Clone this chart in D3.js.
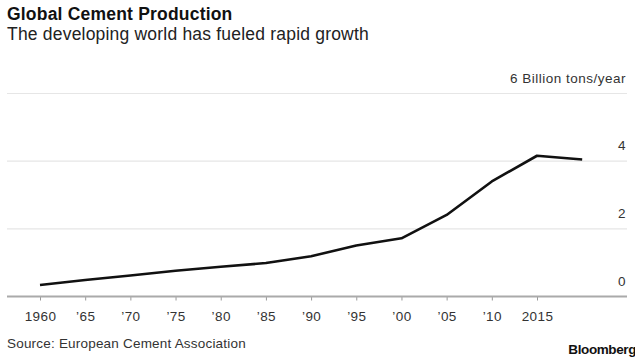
<!DOCTYPE html>
<html>
<head>
<meta charset="utf-8">
<script src="https://cdn.jsdelivr.net/npm/d3@7"></script>
<style>
  html, body { margin: 0; padding: 0; background: #fff; }
  svg { display: block; font-family: "Liberation Sans", Arial, sans-serif; }
</style>
</head>
<body>
<svg id="chart" width="635" height="361"></svg>
<script>
// Global cement production, billion tons per year
const years = [1960, 1965, 1970, 1975, 1980, 1985, 1990, 1995, 2000, 2005, 2010, 2015, 2020];
const production = [0.34, 0.49, 0.62, 0.76, 0.88, 0.99, 1.19, 1.51, 1.72, 2.41, 3.40, 4.16, 4.05];
const xTicks = [1960, 1965, 1970, 1975, 1980, 1985, 1990, 1995, 2000, 2005, 2010, 2015];
const xTickLabels = ["1960", "’65", "’70", "’75", "’80", "’85", "’90", "’95", "’00", "’05", "’10", "2015"];
const yTicks = [0, 2, 4, 6];
const yTickLabels = ["0", "2", "4", "6 Billion tons/year"];

const svg = d3.select("#chart");
const W = 635, H = 361;
const left = 7, right = 627;

const x = d3.scaleLinear().domain([1960, 2015]).range([40, 537]);
const y = d3.scaleLinear().domain([0, 6]).range([296.5, 93.5]);

// Title block
svg.append("text").attr("x", 7).attr("y", 20)
  .attr("font-size", 17.5).attr("font-weight", "bold").attr("fill", "#111")
  .attr("letter-spacing", 0.2)
  .text("Global Cement Production");
svg.append("text").attr("x", 7).attr("y", 40)
  .attr("font-size", 17.5).attr("fill", "#222").attr("letter-spacing", 0.2)
  .text("The developing world has fueled rapid growth");

// Horizontal gridlines with labels sitting above them on the right
const grid = svg.append("g");
grid.selectAll("line").data(yTicks.filter(d => d !== 0)).join("line")
  .attr("x1", left).attr("x2", right)
  .attr("y1", d => y(d)).attr("y2", d => y(d))
  .attr("stroke", "#e6e6e6").attr("stroke-width", 1.2);
grid.selectAll("text").data(yTicks).join("text")
  .attr("x", right - 1).attr("y", d => y(d) - 11)
  .attr("text-anchor", "end").attr("font-size", 13.5).attr("fill", "#333")
  .attr("letter-spacing", 0.5)
  .text((d, i) => yTickLabels[i]);

// Bottom axis
const xAxis = d3.axisBottom(x)
  .tickValues(xTicks)
  .tickFormat((d, i) => xTickLabels[i])
  .tickSize(4).tickPadding(11);
const gx = svg.append("g").attr("transform", `translate(0,${y(0)})`).call(xAxis);
gx.select(".domain").remove();
gx.selectAll(".tick line").attr("stroke", "#999");
gx.selectAll(".tick text").attr("font-size", 13.5).attr("fill", "#333")
  .attr("letter-spacing", 0.4)
  .attr("font-family", "Liberation Sans, Arial, sans-serif");
svg.append("line").attr("x1", left).attr("x2", right)
  .attr("y1", y(0)).attr("y2", y(0))
  .attr("stroke", "#aaa").attr("stroke-width", 2);

// Production line
const line = d3.line().x((d, i) => x(years[i])).y(d => y(d));
svg.append("path").datum(production)
  .attr("d", line).attr("fill", "none")
  .attr("stroke", "#111").attr("stroke-width", 2.6)
  .attr("stroke-linejoin", "round");

// Footer
svg.append("text").attr("x", 7).attr("y", 348)
  .attr("font-size", 13.5).attr("fill", "#333").attr("letter-spacing", 0.2)
  .text("Source: European Cement Association");
svg.append("text").attr("x", W + 1).attr("y", 354)
  .attr("text-anchor", "end").attr("font-size", 13.5).attr("font-weight", "bold")
  .attr("fill", "#111").attr("letter-spacing", -0.4)
  .text("Bloomberg");
</script>
</body>
</html>
